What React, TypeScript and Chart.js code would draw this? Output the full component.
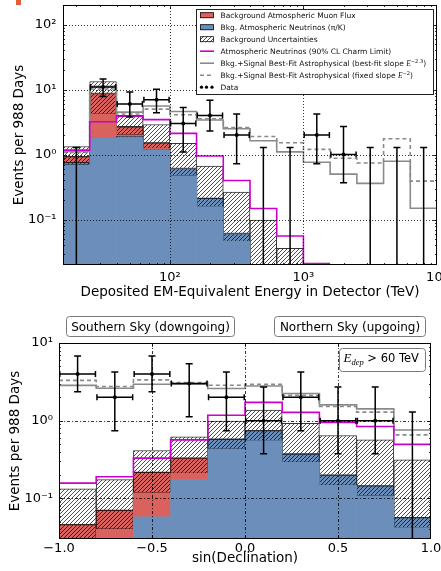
import React, { useEffect, useRef } from 'react';
import { Chart, registerables } from 'chart.js';

Chart.register(...registerables);

type Num = number | null;

// ===== Top panel: deposited energy (bin edges in log10(E / TeV)) =====
const energyEdges = [1.2, 1.4, 1.6, 1.8, 2.0, 2.2, 2.4, 2.6, 2.8, 3.0, 3.2, 3.4, 3.6, 3.8, 4.0];
const energyNuLow: Num[] = [0.69, 1.78, 1.82, 1.17, 0.47, 0.158, 0.046, null, null, null, null, null, null, null];
const energyNuHigh: Num[] = [0.75, 1.8, 1.9, 1.2, 0.61, 0.212, 0.061, null, null, null, null, null, null, null];
const energyMuLow: Num[] = [null, 4.2, 2.0, 1.24, null, null, null, null, null, null, null, null, null, null];
const energyMuHigh: Num[] = [0.93, 8.7, 2.68, 1.51, null, null, null, null, null, null, null, null, null, null];
const energyBkgHigh: Num[] = [1.33, 13.3, 4.0, 2.9, 1.49, 0.665, 0.265, 0.098, 0.036, null, null, null, null, null];
const energyCharm: Num[] = [1.17, 3.2, 3.9, 3.45, 2.12, 0.95, 0.4, 0.148, 0.056, 0.021, null, null, null, null];
const energyFitFree: Num[] = [1.12, 11.2, 4.5, 5.6, 4.6, 3.4, 2.5, 1.63, 1.1, 0.76, 0.5, 0.36, 0.79, 0.149];
const energyFitFixed: Num[] = [1.08, 10.2, 4.2, 5.0, 4.1, 3.55, 2.6, 1.9, 1.52, 1.2, 0.88, 0.74, 1.75, 0.39];
const energyCounts = [0, 11, 6, 7, 3, 4, 2, 0, 0, 2, 1, 0, 0, 0];
const energyErrLow: Num[] = [null, 7.8, 3.8, 4.4, 1.1, 2.3, 0.72, null, null, 0.72, 0.37, null, null, null];
const energyErrHigh: Num[] = [1.29, 14.5, 9.2, 10.1, 5.3, 6.85, 4.2, 1.29, 1.29, 4.2, 2.7, 1.29, 1.29, 1.29];
const energyXTickValues = [2, 3, 4];
const energyXTickLabels = ['10²', '10³', '10⁴'];
const energyYTickValues = [0.1, 1, 10, 100];
const energyYTickLabels = ['10⁻¹', '10⁰', '10¹', '10²'];

// ===== Bottom panel: sin(declination) =====
const decEdges = [-1.0, -0.8, -0.6, -0.4, -0.2, 0.0, 0.2, 0.4, 0.6, 0.8, 1.0];
const decNuLow: Num[] = [null, null, 0.058, 0.176, 0.43, 0.555, 0.29, 0.147, 0.108, 0.042];
const decNuHigh: Num[] = [null, null, 0.058, 0.176, 0.577, 0.745, 0.373, 0.199, 0.145, 0.0565];
const decMuLow: Num[] = [null, 0.04, 0.118, 0.21, null, null, null, null, null, null];
const decMuHigh: Num[] = [0.046, 0.07, 0.216, 0.33, null, null, null, null, null, null];
const decBkgHigh: Num[] = [0.133, 0.174, 0.413, 0.62, 0.985, 1.37, 0.925, 0.645, 0.566, 0.314];
const decCharm: Num[] = [0.157, 0.19, 0.33, 0.566, 1.175, 1.72, 1.28, 0.95, 0.84, 0.495];
const decFitFree: Num[] = [2.85, 2.62, 2.95, 2.95, 2.6, 2.8, 2.24, 1.6, 1.42, 0.76];
const decFitFixed: Num[] = [3.3, 2.75, 3.35, 3.1, 2.86, 2.93, 2.12, 1.52, 1.29, 0.656];
const decCounts = [4, 2, 4, 3, 2, 1, 2, 1, 1, 0];
const decErrLow: Num[] = [2.35, 0.74, 2.35, 1.12, 0.74, 0.375, 0.74, 0.375, 0.375, null];
const decErrHigh: Num[] = [6.8, 4.24, 6.8, 5.4, 4.24, 2.72, 4.24, 2.72, 2.72, 1.29];
const decXTickValues = [-1, -0.5, 0, 0.5, 1];
const decXTickLabels = ['−1.0', '−0.5', '0.0', '0.5', '1.0'];
const decYTickValues = [0.1, 1, 10];
const decYTickLabels = ['10⁻¹', '10⁰', '10¹'];

const legendLabels = [
  'Background Atmospheric Muon Flux',
  'Bkg. Atmospheric Neutrinos (π/K)',
  'Background Uncertainties',
  'Atmospheric Neutrinos (90% CL Charm Limit)',
  'Bkg.+Signal Best-Fit Astrophysical (best-fit slope ',
  'Bkg.+Signal Best-Fit Astrophysical (fixed slope ',
  'Data',
];
const legendSlopes = ['−2.3', '−2'];

const SANS = "'DejaVu Sans', sans-serif";
const MATH = "'Liberation Serif', 'DejaVu Serif', serif";
const BLUE = '#6b8fba';
const RED = '#d9625e';
const MAGENTA = '#cc00cc';
const GRAY = '#8a8a8a';
const FLOOR = 1e-6;

Chart.defaults.font.family = SANS;
Chart.defaults.color = '#000';

interface PanelData {
  edges: number[];
  nuLow: Num[]; nuHigh: Num[]; muLow: Num[]; muHigh: Num[]; bkgHigh: Num[];
  charm: Num[]; fitFree: Num[]; fitFixed: Num[];
  counts: number[]; errLow: Num[]; errHigh: Num[];
}

const energyPanel: PanelData = {
  edges: energyEdges, nuLow: energyNuLow, nuHigh: energyNuHigh, muLow: energyMuLow, muHigh: energyMuHigh,
  bkgHigh: energyBkgHigh, charm: energyCharm, fitFree: energyFitFree, fitFixed: energyFitFixed,
  counts: energyCounts, errLow: energyErrLow, errHigh: energyErrHigh,
};
const decPanel: PanelData = {
  edges: decEdges, nuLow: decNuLow, nuHigh: decNuHigh, muLow: decMuLow, muHigh: decMuHigh,
  bkgHigh: decBkgHigh, charm: decCharm, fitFree: decFitFree, fitFixed: decFitFixed,
  counts: decCounts, errLow: decErrLow, errHigh: decErrHigh,
};

function centers(edges: number[]) {
  return edges.slice(0, -1).map((e, i) => (e + edges[i + 1]) / 2);
}

function band(edges: number[], lowers: Num[][], upper: Num[]) {
  const c = centers(edges);
  const out: any[] = [];
  upper.forEach((hi, i) => {
    if (hi == null) return;
    let lo = FLOOR;
    for (const arr of lowers) {
      const v = arr[i];
      if (v != null) { lo = v; break; }
    }
    if (hi <= lo) return;
    out.push({ x: c[i], y: [lo, hi] });
  });
  return out;
}

function steps(edges: number[], vals: Num[]) {
  const pts: any[] = [];
  vals.forEach((v, i) => {
    if (v == null) { pts.push({ x: edges[i], y: null }); return; }
    pts.push({ x: edges[i], y: v }, { x: edges[i + 1], y: v });
  });
  return pts;
}

function makeHatch(bg: string, fg: string, lw: number) {
  const s = 8;
  const c = document.createElement('canvas');
  c.width = s; c.height = s;
  const g = c.getContext('2d')!;
  g.fillStyle = bg; g.fillRect(0, 0, s, s);
  g.strokeStyle = fg; g.lineWidth = lw;
  g.beginPath();
  for (let o = -s; o <= s; o += 4) { g.moveTo(o, s); g.lineTo(o + s, 0); }
  g.stroke();
  return g.createPattern(c, 'repeat')!;
}

function datasets(p: PanelData, pats: any) {
  const barBase = { type: 'bar', grouped: false, barPercentage: 1, categoryPercentage: 1, order: 10 };
  const c = centers(p.edges);
  return [
    { ...barBase, label: 'nu', data: band(p.edges, [], p.nuLow), backgroundColor: BLUE, borderWidth: 0 },
    { ...barBase, label: 'nuErr', data: band(p.edges, [p.nuLow], p.nuHigh), backgroundColor: pats.blue, borderColor: '#1d2a3c', borderWidth: 1, borderSkipped: false },
    { ...barBase, label: 'mu', data: band(p.edges, [p.nuHigh, p.nuLow], p.muLow), backgroundColor: RED, borderWidth: 0 },
    { ...barBase, label: 'muErr', data: band(p.edges, [p.muLow, p.nuHigh, p.nuLow], p.muHigh), backgroundColor: pats.red, borderColor: '#3a1414', borderWidth: 1, borderSkipped: false },
    { ...barBase, label: 'bkgErr', data: band(p.edges, [p.muHigh, p.muLow, p.nuHigh, p.nuLow], p.bkgHigh), backgroundColor: pats.white, borderColor: '#333', borderWidth: 1, borderSkipped: false },
    { type: 'line', label: 'fitFree', data: steps(p.edges, p.fitFree), borderColor: GRAY, borderWidth: 1.6, pointRadius: 0, fill: false, spanGaps: false, order: 4 },
    { type: 'line', label: 'fitFixed', data: steps(p.edges, p.fitFixed), borderColor: GRAY, borderDash: [4, 3], borderWidth: 1.6, pointRadius: 0, fill: false, spanGaps: false, order: 4 },
    { type: 'line', label: 'charm', data: steps(p.edges, p.charm), borderColor: MAGENTA, borderWidth: 1.6, pointRadius: 0, fill: false, spanGaps: false, order: 2 },
    {
      type: 'line', label: 'data', showLine: false, order: 0,
      data: p.counts.map((n, i) => ({ x: c[i], y: n })).filter((d) => d.y > 0),
      pointRadius: 2, pointBackgroundColor: '#000', pointBorderColor: '#000', pointBorderWidth: 0,
    },
  ];
}

function decorPlugin(cfg: {
  p: PanelData; xGrid: number[]; yGrid: number[]; dash: number[];
  xTicks: { v: number; len: number }[]; extra?: (chart: any) => void;
}) {
  return {
    id: 'decor',
    afterDatasetsDraw(chart: any) {
      const { ctx, chartArea: a } = chart;
      const xs = chart.scales.x, ys = chart.scales.y;
      const p = cfg.p;
      ctx.save();
      ctx.beginPath(); ctx.rect(a.left, a.top, a.right - a.left, a.bottom - a.top); ctx.clip();
      // grid
      ctx.lineWidth = 0.8; ctx.strokeStyle = '#000'; ctx.setLineDash(cfg.dash);
      ctx.beginPath();
      cfg.xGrid.forEach((v) => { const px = Math.round(xs.getPixelForValue(v)) + 0.5; ctx.moveTo(px, a.top); ctx.lineTo(px, a.bottom); });
      cfg.yGrid.forEach((v) => { const py = Math.round(ys.getPixelForValue(v)) + 0.5; ctx.moveTo(a.left, py); ctx.lineTo(a.right, py); });
      ctx.stroke(); ctx.setLineDash([]);
      // error bars
      ctx.strokeStyle = '#000'; ctx.lineWidth = 1.5;
      p.counts.forEach((n, i) => {
        const l = xs.getPixelForValue(p.edges[i]);
        const r = xs.getPixelForValue(p.edges[i + 1]);
        const cx = (l + r) / 2;
        const hi = p.errHigh[i];
        const lo = p.errLow[i];
        const yLo = n > 0 && lo != null ? ys.getPixelForValue(lo) : a.bottom + 3;
        ctx.beginPath();
        if (hi != null) {
          const yHi = ys.getPixelForValue(hi);
          ctx.moveTo(cx, yLo); ctx.lineTo(cx, yHi);
          ctx.moveTo(cx - 3.5, yHi); ctx.lineTo(cx + 3.5, yHi);
        }
        if (n > 0) {
          const yc = ys.getPixelForValue(n);
          ctx.moveTo(l, yc); ctx.lineTo(r, yc);
          ctx.moveTo(l + 0.75, yc - 3); ctx.lineTo(l + 0.75, yc + 3);
          ctx.moveTo(r - 0.75, yc - 3); ctx.lineTo(r - 0.75, yc + 3);
          if (lo != null) { ctx.moveTo(cx - 3.5, yLo); ctx.lineTo(cx + 3.5, yLo); }
        }
        ctx.stroke();
      });
      ctx.restore();

      // frame and inward ticks
      ctx.save();
      ctx.strokeStyle = '#000'; ctx.lineWidth = 1;
      ctx.strokeRect(Math.round(a.left) + 0.5, Math.round(a.top) + 0.5, Math.round(a.right - a.left) - 1, Math.round(a.bottom - a.top) - 1);
      ctx.lineWidth = 0.8;
      ctx.beginPath();
      const lmin = Math.floor(Math.log10(ys.min)), lmax = Math.ceil(Math.log10(ys.max));
      for (let k = lmin; k <= lmax; k++) {
        for (let m = 1; m <= 9; m++) {
          const v = m * Math.pow(10, k);
          if (v <= ys.min * 1.0001 || v >= ys.max * 0.9999) continue;
          const len = m === 1 ? 4 : 2;
          const py = Math.round(ys.getPixelForValue(v)) + 0.5;
          ctx.moveTo(a.left, py); ctx.lineTo(a.left + len, py);
          ctx.moveTo(a.right, py); ctx.lineTo(a.right - len, py);
        }
      }
      cfg.xTicks.forEach(({ v, len }) => {
        const px = Math.round(xs.getPixelForValue(v)) + 0.5;
        ctx.moveTo(px, a.top); ctx.lineTo(px, a.top + len);
        ctx.moveTo(px, a.bottom); ctx.lineTo(px, a.bottom - len);
      });
      ctx.stroke();
      ctx.restore();
      if (cfg.extra) cfg.extra(chart);
    },
  };
}

function drawRuns(ctx: CanvasRenderingContext2D, runs: { t: string; font: string; dy?: number }[], x: number, y: number) {
  for (const r of runs) {
    ctx.font = r.font;
    ctx.fillText(r.t, x, y + (r.dy || 0));
    x += ctx.measureText(r.t).width;
  }
  return x;
}

function roundBox(ctx: CanvasRenderingContext2D, l: number, t: number, r: number, b: number, rad: number) {
  ctx.beginPath();
  ctx.moveTo(l + rad, t);
  ctx.lineTo(r - rad, t); ctx.quadraticCurveTo(r, t, r, t + rad);
  ctx.lineTo(r, b - rad); ctx.quadraticCurveTo(r, b, r - rad, b);
  ctx.lineTo(l + rad, b); ctx.quadraticCurveTo(l, b, l, b - rad);
  ctx.lineTo(l, t + rad); ctx.quadraticCurveTo(l, t, l + rad, t);
  ctx.closePath();
  ctx.fillStyle = '#fff'; ctx.fill();
  ctx.strokeStyle = '#7a7a7a'; ctx.lineWidth = 1; ctx.stroke();
}

function makeLegendDrawer(pats: any) {
  return (chart: any) => {
    const ctx: CanvasRenderingContext2D = chart.ctx;
    ctx.save();
    const L = 196.5, T = 9.5, R = 433.5, B = 94.5;
    ctx.fillStyle = '#fff'; ctx.fillRect(L, T, R - L, B - T);
    ctx.strokeStyle = '#222'; ctx.lineWidth = 1; ctx.strokeRect(L, T, R - L, B - T);
    const fs = 7.5;
    const font = `${fs}px ${SANS}`;
    legendLabels.forEach((lab, i) => {
      const yc = 15.2 + i * 12;
      const hx = 200, hw = 14;
      ctx.setLineDash([]);
      if (i <= 2) {
        ctx.fillStyle = i === 0 ? RED : i === 1 ? BLUE : pats.white;
        ctx.fillRect(hx, yc - 3, hw, 6);
        ctx.strokeStyle = '#111'; ctx.lineWidth = 0.8; ctx.strokeRect(hx + 0.5, yc - 2.5, hw - 1, 5);
      } else if (i <= 5) {
        ctx.strokeStyle = i === 3 ? MAGENTA : GRAY; ctx.lineWidth = 1.6;
        if (i === 5) ctx.setLineDash([4, 3]);
        ctx.beginPath(); ctx.moveTo(hx, yc); ctx.lineTo(hx + hw, yc); ctx.stroke();
        ctx.setLineDash([]);
      } else {
        ctx.fillStyle = '#000';
        [hx + 1.5, hx + 6.5, hx + 12].forEach((px) => { ctx.beginPath(); ctx.arc(px, yc, 1.6, 0, Math.PI * 2); ctx.fill(); });
      }
      ctx.fillStyle = '#111';
      ctx.textBaseline = 'alphabetic'; ctx.textAlign = 'left';
      const runs: { t: string; font: string; dy?: number }[] = [{ t: lab, font }];
      if (i === 4 || i === 5) {
        runs.push({ t: 'E', font: `italic ${fs}px ${MATH}` });
        runs.push({ t: legendSlopes[i - 4], font: `${fs * 0.68}px ${SANS}`, dy: -3 });
        runs.push({ t: ')', font });
      }
      drawRuns(ctx, runs, 220.5, yc + 2.7);
    });
    ctx.restore();
  };
}

function drawSkyBoxes(chart: any) {
  const ctx: CanvasRenderingContext2D = chart.ctx;
  ctx.save();
  roundBox(ctx, 66.5, 6.5, 234.5, 26.5, 3);
  roundBox(ctx, 274.5, 6.5, 425.5, 26.5, 3);
  roundBox(ctx, 339.5, 38.5, 425.5, 61.5, 3);
  ctx.fillStyle = '#000';
  ctx.textAlign = 'center'; ctx.textBaseline = 'alphabetic';
  ctx.font = `12px ${SANS}`;
  ctx.fillText('Southern Sky (downgoing)', 150.5, 20.5);
  ctx.fillText('Northern Sky (upgoing)', 350, 20.5);
  ctx.textAlign = 'left';
  drawRuns(ctx, [
    { t: 'E', font: `italic 13px ${MATH}` },
    { t: 'dep', font: `italic 8.5px ${MATH}`, dy: 3 },
    { t: ' > 60 TeV', font: `11.5px ${SANS}` },
  ], 343.5, 52);
  ctx.restore();
}

function buildChart(canvas: HTMLCanvasElement, o: any) {
  return new Chart(canvas, {
    type: 'bar',
    data: { datasets: datasets(o.p, o.pats) as any },
    options: {
      responsive: false,
      animation: false,
      devicePixelRatio: 1,
      events: [],
      layout: { padding: o.padding },
      plugins: { legend: { display: false }, tooltip: { enabled: false } },
      scales: {
        x: {
          type: 'linear', min: o.xMin, max: o.xMax, offset: false,
          grid: { display: false, drawTicks: false }, border: { display: false },
          afterBuildTicks: (s: any) => { s.ticks = o.xTickValues.map((v: number) => ({ value: v })); },
          afterFit: (s: any) => { s.height = o.xHeight; s.paddingLeft = 0; s.paddingRight = 0; },
          ticks: {
            autoSkip: false, maxRotation: 0, minRotation: 0, padding: o.xTickPad,
            font: { size: 13 }, color: '#000',
            callback: (_v: any, i: number) => o.xTickLabels[i],
          },
          title: { display: true, text: o.xTitle, color: '#000', font: { size: 13.5 }, padding: { top: 0, bottom: o.xTitlePad } },
        },
        y: {
          type: 'logarithmic', min: o.yMin, max: o.yMax,
          grid: { display: false, drawTicks: false }, border: { display: false },
          afterBuildTicks: (s: any) => { s.ticks = o.yTickValues.map((v: number) => ({ value: v })); },
          afterFit: (s: any) => { s.width = o.yWidth; s.paddingTop = 0; s.paddingBottom = 0; },
          ticks: {
            autoSkip: false, padding: o.yTickPad, font: { size: 13 }, color: '#000',
            callback: (_v: any, i: number) => o.yTickLabels[i],
          },
          title: { display: true, text: 'Events per 988 Days', color: '#000', font: { size: 13.5 }, padding: { top: o.yTitlePad, bottom: 0 } },
        },
      },
    } as any,
    plugins: [o.decor],
  });
}

export default function App() {
  const topRef = useRef<HTMLCanvasElement>(null);
  const botRef = useRef<HTMLCanvasElement>(null);

  useEffect(() => {
    const pats = {
      blue: makeHatch(BLUE, 'rgba(15,25,45,0.9)', 1),
      red: makeHatch(RED, 'rgba(60,12,12,0.9)', 1),
      white: makeHatch('#ffffff', '#3a3a3a', 0.9),
    };
    const topXTicks: { v: number; len: number }[] = [];
    for (let k = 1; k <= 3; k++) {
      for (let m = 1; m <= 9; m++) {
        const v = k + Math.log10(m);
        if (v > 1.2 && v < 4.0) topXTicks.push({ v, len: m === 1 ? 4 : 2 });
      }
    }
    const top = buildChart(topRef.current!, {
      p: energyPanel, pats,
      padding: { left: 0, top: 5, right: 4, bottom: 0 },
      xMin: energyEdges[0], xMax: energyEdges[energyEdges.length - 1],
      yMin: 0.02, yMax: 200,
      xTickValues: energyXTickValues, xTickLabels: energyXTickLabels,
      yTickValues: energyYTickValues, yTickLabels: energyYTickLabels,
      xTitle: 'Deposited EM-Equivalent Energy in Detector (TeV)',
      xHeight: 45, yWidth: 63, xTickPad: 5, yTickPad: 6.5, xTitlePad: 9, yTitlePad: 11.4,
      decor: decorPlugin({
        p: energyPanel, xGrid: [2, 3], yGrid: energyYTickValues, dash: [1, 2],
        xTicks: topXTicks, extra: makeLegendDrawer(pats),
      }),
    });
    const bot = buildChart(botRef.current!, {
      p: decPanel, pats,
      padding: { left: 0, top: 33, right: 10, bottom: 0 },
      xMin: -1, xMax: 1, yMin: 0.03, yMax: 10,
      xTickValues: decXTickValues, xTickLabels: decXTickLabels,
      yTickValues: decYTickValues, yTickLabels: decYTickLabels,
      xTitle: 'sin(Declination)',
      xHeight: 32, yWidth: 59, xTickPad: 2.2, yTickPad: 6, xTitlePad: 4.2, yTitlePad: 7.2,
      decor: decorPlugin({
        p: decPanel, xGrid: [-0.5, 0, 0.5], yGrid: [0.1, 1], dash: [3, 2, 1, 2],
        xTicks: [{ v: -0.5, len: 4 }, { v: 0, len: 4 }, { v: 0.5, len: 4 }], extra: drawSkyBoxes,
      }),
    });
    return () => { top.destroy(); bot.destroy(); };
  }, []);

  return (
    <div style={{ position: 'fixed', left: 0, top: 0, width: 441, height: 571, background: '#fff', overflow: 'hidden' }}>
      <div style={{ position: 'absolute', left: 16, top: 0, width: 5, height: 5, background: '#e0603a' }} />
      <canvas ref={topRef} width={441} height={310} style={{ position: 'absolute', left: 0, top: 0 }} />
      <canvas ref={botRef} width={441} height={261} style={{ position: 'absolute', left: 0, top: 310 }} />
    </div>
  );
}
